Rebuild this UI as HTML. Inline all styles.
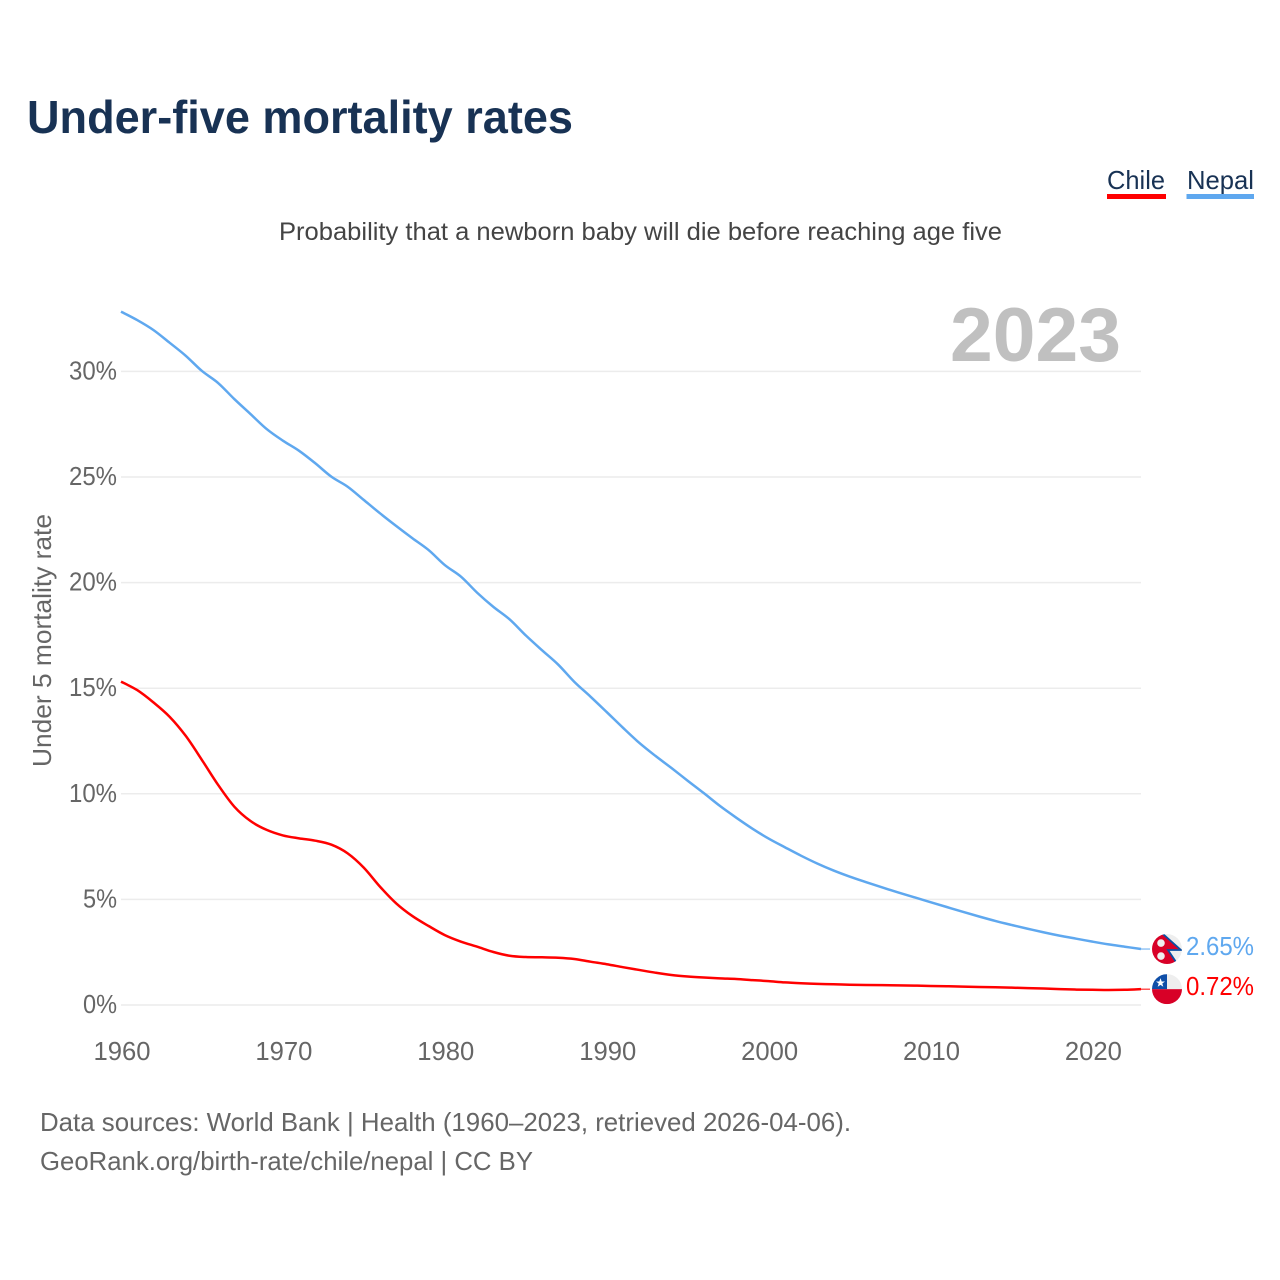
<!DOCTYPE html>
<html lang="en">
<head>
<meta charset="utf-8">
<title>Under-five mortality rates</title>
<style>
html,body{margin:0;padding:0;background:#fff;}
svg{display:block;font-family:"Liberation Sans",sans-serif;}
</style>
</head>
<body>
<svg id="chart" xmlns="http://www.w3.org/2000/svg" width="1280" height="1280" viewBox="0 0 1280 1280">
  <rect width="1280" height="1280" fill="#fff"/>
  <text x="27" y="133" font-size="46" font-weight="700" fill="#183254" textLength="546" lengthAdjust="spacingAndGlyphs">Under-five mortality rates</text>
  <text x="279" y="240" font-size="25" fill="#444" textLength="723" lengthAdjust="spacingAndGlyphs">Probability that a newborn baby will die before reaching age five</text>
  <g>
    <text x="1107" y="189" font-size="26" fill="#183254" textLength="58" lengthAdjust="spacingAndGlyphs">Chile</text>
    <rect x="1107" y="194" width="59" height="5" fill="#ff0000"/>
    <text x="1187" y="189" font-size="26" fill="#183254" textLength="67" lengthAdjust="spacingAndGlyphs">Nepal</text>
    <rect x="1186.500" y="194" width="67.500" height="5" fill="#5fa8ef"/>
  </g>
  <text x="950" y="361" font-size="76" font-weight="700" fill="#c0c0c0" textLength="171" lengthAdjust="spacingAndGlyphs">2023</text>
  <text transform="translate(51,767) rotate(-90)" font-size="26" fill="#666" textLength="253" lengthAdjust="spacingAndGlyphs">Under 5 mortality rate</text>
  <g id="grid"></g>
  <g id="yticks"></g>
  <g id="xticks"></g>
  <g id="series"></g>
  <defs>
    <clipPath id="flag-clip-shape"><circle cx="0" cy="0" r="15"/></clipPath>
  </defs>
  <g id="flag-nepal" clip-path="url(#flag-clip-shape)">
    <circle cx="0" cy="0" r="15" fill="#eeeeee"/>
    <polygon points="-18,-18 -4,-15 14,1 1,1 9,13 0,18 -18,18" fill="#d80027"/>
    <polyline points="-4,-15 14,1 1,1 9,13" fill="none" stroke="#0b4ea2" stroke-width="1.800"/>
    <circle cx="-6" cy="-6" r="3.800" fill="#eeeeee"/>
    <circle cx="-6" cy="7" r="3.800" fill="#eeeeee"/>
  </g>
  <g id="flag-chile" clip-path="url(#flag-clip-shape)">
    <rect x="-15" y="-15" width="30" height="15" fill="#eeeeee"/>
    <rect x="-15" y="-15" width="15" height="15" fill="#0f4fa8"/>
    <rect x="-15" y="0" width="30" height="15" fill="#d80027"/>
    <polygon points="-6.500,-11 -5.300,-7.700 -2,-7.700 -4.700,-5.600 -3.700,-2.400 -6.500,-4.300 -9.300,-2.400 -8.300,-5.600 -11,-7.700 -7.700,-7.700" fill="#fff"/>
  </g>
  <g>
    <text x="40" y="1131" font-size="26" fill="#666" textLength="811" lengthAdjust="spacingAndGlyphs">Data sources: World Bank | Health (1960–2023, retrieved 2026-04-06).</text>
    <text x="40" y="1170" font-size="26" fill="#666" textLength="493" lengthAdjust="spacingAndGlyphs">GeoRank.org/birth-rate/chile/nepal | CC BY</text>
  </g>
</svg>
<script>
const firstYear = 1960;
const lastYear = 2023;
const xTickYears = [1960, 1970, 1980, 1990, 2000, 2010, 2020];
const yTickValues = [0, 5, 10, 15, 20, 25, 30];
const yTickLabels = ["0%", "5%", "10%", "15%", "20%", "25%", "30%"];
const nepalValues = [32.83,32.43,31.96,31.36,30.74,30.02,29.45,28.69,27.98,27.27,26.72,26.24,25.65,25.01,24.54,23.91,23.28,22.68,22.1,21.54,20.83,20.28,19.52,18.85,18.26,17.5,16.8,16.12,15.3,14.6,13.87,13.13,12.42,11.8,11.22,10.62,10.03,9.42,8.87,8.35,7.88,7.47,7.07,6.7,6.37,6.08,5.82,5.57,5.33,5.1,4.87,4.64,4.41,4.19,3.98,3.79,3.61,3.44,3.28,3.14,3.0,2.87,2.76,2.65];
const chileValues = [15.31,14.91,14.33,13.65,12.74,11.6,10.42,9.39,8.71,8.29,8.03,7.89,7.78,7.59,7.18,6.5,5.6,4.81,4.21,3.74,3.31,3.0,2.76,2.51,2.33,2.27,2.26,2.24,2.18,2.05,1.93,1.79,1.66,1.53,1.42,1.35,1.3,1.26,1.23,1.18,1.13,1.07,1.03,1.0,0.98,0.96,0.95,0.94,0.93,0.92,0.9,0.89,0.87,0.85,0.84,0.82,0.8,0.78,0.75,0.73,0.72,0.71,0.72,0.75];
const nepalLastLabel = "2.65%";
const chileLastLabel = "0.72%";

const SVG_NS = "http://www.w3.org/2000/svg";
function xScale(year) { return 121 + (year - firstYear) * (1141 - 121) / (lastYear - firstYear); }
function yScale(v) { return 1005 - v * 21.12; }
function make(tag, parent) {
  const el = document.createElementNS(SVG_NS, tag);
  parent.appendChild(el);
  return el;
}

const grid = document.getElementById("grid");
const yticks = document.getElementById("yticks");
const xticks = document.getElementById("xticks");
const series = document.getElementById("series");

yTickValues.forEach(function (v, i) {
  const line = make("line", grid);
  
  
  line.setAttribute("x1", 121);
  line.setAttribute("x2", 1141);
  line.setAttribute("y1", yScale(v));
  line.setAttribute("y2", yScale(v));
  line.setAttribute("stroke", "#ececec");
  line.setAttribute("stroke-width", "1.5");

  const label = make("text", yticks);
  
  
  label.setAttribute("x", 117);
  label.setAttribute("y", yScale(v) + 8);
  label.setAttribute("text-anchor", "end");
  label.setAttribute("font-size", "26");
  label.setAttribute("fill", "#666");
  label.setAttribute("textLength", yTickLabels[i].length === 3 ? 48 : 34);
  label.setAttribute("lengthAdjust", "spacingAndGlyphs");
  label.textContent = yTickLabels[i];
});

xTickYears.forEach(function (year) {
  const label = make("text", xticks);
  
  
  label.setAttribute("x", xScale(year) + 1);
  label.setAttribute("y", 1060);
  label.setAttribute("text-anchor", "middle");
  label.setAttribute("font-size", "26");
  label.setAttribute("fill", "#666");
  label.setAttribute("textLength", 57);
  label.setAttribute("lengthAdjust", "spacingAndGlyphs");
  label.textContent = String(year);
});

// Smooth curve through the data points (Catmull-Rom to cubic Bezier).
function pathFor(values) {
  const pts = values.map(function (v, i) {
    return [xScale(firstYear + i), yScale(v)];
  });
  let d = "M" + pts[0][0].toFixed(2) + " " + pts[0][1].toFixed(2);
  for (let i = 0; i < pts.length - 1; i++) {
    const p0 = pts[Math.max(i - 1, 0)];
    const p1 = pts[i];
    const p2 = pts[i + 1];
    const p3 = pts[Math.min(i + 2, pts.length - 1)];
    const c1x = p1[0] + (p2[0] - p0[0]) / 6;
    const c1y = p1[1] + (p2[1] - p0[1]) / 6;
    const c2x = p2[0] - (p3[0] - p1[0]) / 6;
    const c2y = p2[1] - (p3[1] - p1[1]) / 6;
    d += " C" + c1x.toFixed(2) + " " + c1y.toFixed(2) + " " + c2x.toFixed(2) + " " + c2y.toFixed(2) + " " + p2[0].toFixed(2) + " " + p2[1].toFixed(2);
  }
  return d;
}
function lastPoint(values) {
  return yScale(values[values.length - 1]);
}

const nepalLine = make("path", series);


nepalLine.setAttribute("d", pathFor(nepalValues));
nepalLine.setAttribute("fill", "none");
nepalLine.setAttribute("stroke", "#5fa8ef");
nepalLine.setAttribute("stroke-width", "2.5");
nepalLine.setAttribute("stroke-linejoin", "round");

const chileLine = make("path", series);


chileLine.setAttribute("d", pathFor(chileValues));
chileLine.setAttribute("fill", "none");
chileLine.setAttribute("stroke", "#ff0000");
chileLine.setAttribute("stroke-width", "2.5");
chileLine.setAttribute("stroke-linejoin", "round");

const nepalConnector = make("line", series);


nepalConnector.setAttribute("x1", 1141);
nepalConnector.setAttribute("x2", 1150);
nepalConnector.setAttribute("y1", lastPoint(nepalValues));
nepalConnector.setAttribute("y2", lastPoint(nepalValues));
nepalConnector.setAttribute("stroke", "#5fa8ef");
nepalConnector.setAttribute("stroke-width", "1");

const chileConnector = make("line", series);


chileConnector.setAttribute("x1", 1141);
chileConnector.setAttribute("x2", 1150);
chileConnector.setAttribute("y1", lastPoint(chileValues));
chileConnector.setAttribute("y2", lastPoint(chileValues));
chileConnector.setAttribute("stroke", "#ff0000");
chileConnector.setAttribute("stroke-width", "1");

document.getElementById("flag-nepal").setAttribute("transform", "translate(1167," + lastPoint(nepalValues) + ")");
document.getElementById("flag-chile").setAttribute("transform", "translate(1167," + lastPoint(chileValues) + ")");

const nepalLabel = make("text", series);


nepalLabel.setAttribute("x", 1186);
nepalLabel.setAttribute("y", lastPoint(nepalValues) + 6);
nepalLabel.setAttribute("font-size", "26");
nepalLabel.setAttribute("fill", "#5fa8ef");
nepalLabel.setAttribute("textLength", 68);
nepalLabel.setAttribute("lengthAdjust", "spacingAndGlyphs");
nepalLabel.textContent = nepalLastLabel;

const chileLabel = make("text", series);


chileLabel.setAttribute("x", 1186);
chileLabel.setAttribute("y", lastPoint(chileValues) + 6);
chileLabel.setAttribute("font-size", "26");
chileLabel.setAttribute("fill", "#ff0000");
chileLabel.setAttribute("textLength", 68);
chileLabel.setAttribute("lengthAdjust", "spacingAndGlyphs");
chileLabel.textContent = chileLastLabel;
</script>
</body>
</html>
